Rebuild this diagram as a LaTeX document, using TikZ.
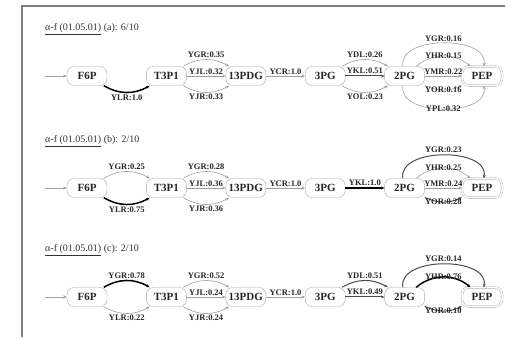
\documentclass[tikz,border=0pt]{standalone}
\usepackage{fontspec}
\setmainfont{Liberation Serif}
\usetikzlibrary{positioning}
\usetikzlibrary{arrows.meta}

\tikzset{
  metab/.style={draw=gray!70, rounded corners=7pt, minimum width=40pt, minimum height=19pt,
    inner sep=1pt, text=black!85, font=\fontsize{11}{11}\selectfont\bfseries},
  metabend/.style={metab, double=white, double distance=1.5pt},
  heading/.style={inner sep=0pt, text=black!80, font=\fontsize{10}{10}\selectfont},
  thinflow/.style={-{Stealth[length=3.5pt,width=3pt]}, draw=gray!75, line width=0.6pt},
  midflow/.style={thinflow, draw=black!70, line width=1pt},
  heavyflow/.style={thinflow, draw=black, line width=1.5pt},
  lbl/.style={inner sep=1.5pt, text=black!85, font=\fontsize{8.5}{8.5}\selectfont\bfseries},
  outerup/.style={out=100, in=80, looseness=1.0},
  outerdown/.style={out=-100, in=-80, looseness=1.0},
}

\begin{document}
\begin{tikzpicture}[x=1pt, y=1pt]
  \useasboundingbox (0,0) rectangle (508,337);
  % frame
  \draw [gray, line width=1.2pt] (22,0) |- (505,331);

  % metabolites, one row per pathway
  \foreach \row/\ypos/\ttl in {a/261/{(a): 6/10}, b/149/{(b): 2/10}, c/40/{(c): 2/10}} {
    \node [heading, anchor=west] (title\row) at (45,\ypos+47) {\underline{α-f (01.05.01)} \ttl};
    \node [metab] (f6p\row) at (87,\ypos) {F6P};
    \node [metab, right=39pt of f6p\row] (t3p\row) {T3P1};
    \node [metab, right=39pt of t3p\row] (pdg\row) {13PDG};
    \node [metab, right=39pt of pdg\row] (pgc\row) {3PG};
    \node [metab, right=39pt of pgc\row] (pgb\row) {2PG};
    \node [metabend, right=37pt of pgb\row] (pep\row) {PEP};
    \coordinate (in\row) at (45,\ypos);
    \draw [thinflow] (in\row) -- (f6p\row);
  }

  % (a)
  \draw [heavyflow] (f6pa) to [bend right=30] node [lbl, below] {YLR:1.0} (t3pa);
  \draw [thinflow] (t3pa) to [bend left=30] node [lbl, above] {YGR:0.35} (pdga);
  \draw [thinflow] (t3pa) -- node [lbl, above] {YJL:0.32} (pdga);
  \draw [thinflow] (t3pa) to [bend right=30] node [lbl, below] {YJR:0.33} (pdga);
  \draw [thinflow] (pdga) -- node [lbl, above] {YCR:1.0} (pgca);
  \draw [thinflow] (pgca) to [bend left=30] node [lbl, above] {YDL:0.26} (pgba);
  \draw [midflow] (pgca) -- node [lbl, above] {YKL:0.51} (pgba);
  \draw [thinflow] (pgca) to [bend right=30] node [lbl, below] {YOL:0.23} (pgba);
  \draw [thinflow] (pgba) to [outerup] node [lbl, above] {YGR:0.16} (pepa);
  \draw [thinflow] (pgba) to [bend left=40] node [lbl] {YHR:0.15} (pepa);
  \draw [thinflow] (pgba) -- node [lbl, above] {YMR:0.22} (pepa);
  \draw [thinflow] (pgba) to [bend right=25] node [lbl] {YOR:0.16} (pepa);
  \draw [thinflow] (pgba) to [outerdown] node [lbl] {YPL:0.32} (pepa);

  % (b)
  \draw [thinflow] (f6pb) to [bend left=30] node [lbl, above] {YGR:0.25} (t3pb);
  \draw [heavyflow] (f6pb) to [bend right=30] node [lbl, below] {YLR:0.75} (t3pb);
  \draw [thinflow] (t3pb) to [bend left=30] node [lbl, above] {YGR:0.28} (pdgb);
  \draw [thinflow] (t3pb) -- node [lbl, above] {YJL:0.36} (pdgb);
  \draw [thinflow] (t3pb) to [bend right=30] node [lbl, below] {YJR:0.36} (pdgb);
  \draw [thinflow] (pdgb) -- node [lbl, above] {YCR:1.0} (pgcb);
  \draw [heavyflow] (pgcb) -- node [lbl, above] {YKL:1.0} (pgbb);
  \draw [midflow] (pgbb) to [outerup] node [lbl, above] {YGR:0.23} (pepb);
  \draw [thinflow] (pgbb) to [bend left=40] node [lbl] {YHR:0.25} (pepb);
  \draw [thinflow] (pgbb) -- node [lbl, above] {YMR:0.24} (pepb);
  \draw [midflow] (pgbb) to [bend right=25] node [lbl] {YOR:0.28} (pepb);

  % (c)
  \draw [heavyflow] (f6pc) to [bend left=30] node [lbl, above] {YGR:0.78} (t3pc);
  \draw [thinflow] (f6pc) to [bend right=30] node [lbl, below] {YLR:0.22} (t3pc);
  \draw [thinflow] (t3pc) to [bend left=30] node [lbl, above] {YGR:0.52} (pdgc);
  \draw [thinflow] (t3pc) -- node [lbl, above] {YJL:0.24} (pdgc);
  \draw [thinflow] (t3pc) to [bend right=30] node [lbl, below] {YJR:0.24} (pdgc);
  \draw [thinflow] (pdgc) -- node [lbl, above] {YCR:1.0} (pgcc);
  \draw [midflow] (pgcc) to [bend left=30] node [lbl, above] {YDL:0.51} (pgbc);
  \draw [midflow] (pgcc) -- node [lbl, above] {YKL:0.49} (pgbc);
  \draw [midflow] (pgbc) to [outerup] node [lbl, above] {YGR:0.14} (pepc);
  \draw [heavyflow] (pgbc) to [bend left=40] node [lbl] {YHR:0.76} (pepc);
  \draw [midflow] (pgbc) to [bend right=25] node [lbl] {YOR:0.10} (pepc);
\end{tikzpicture}
\end{document}
